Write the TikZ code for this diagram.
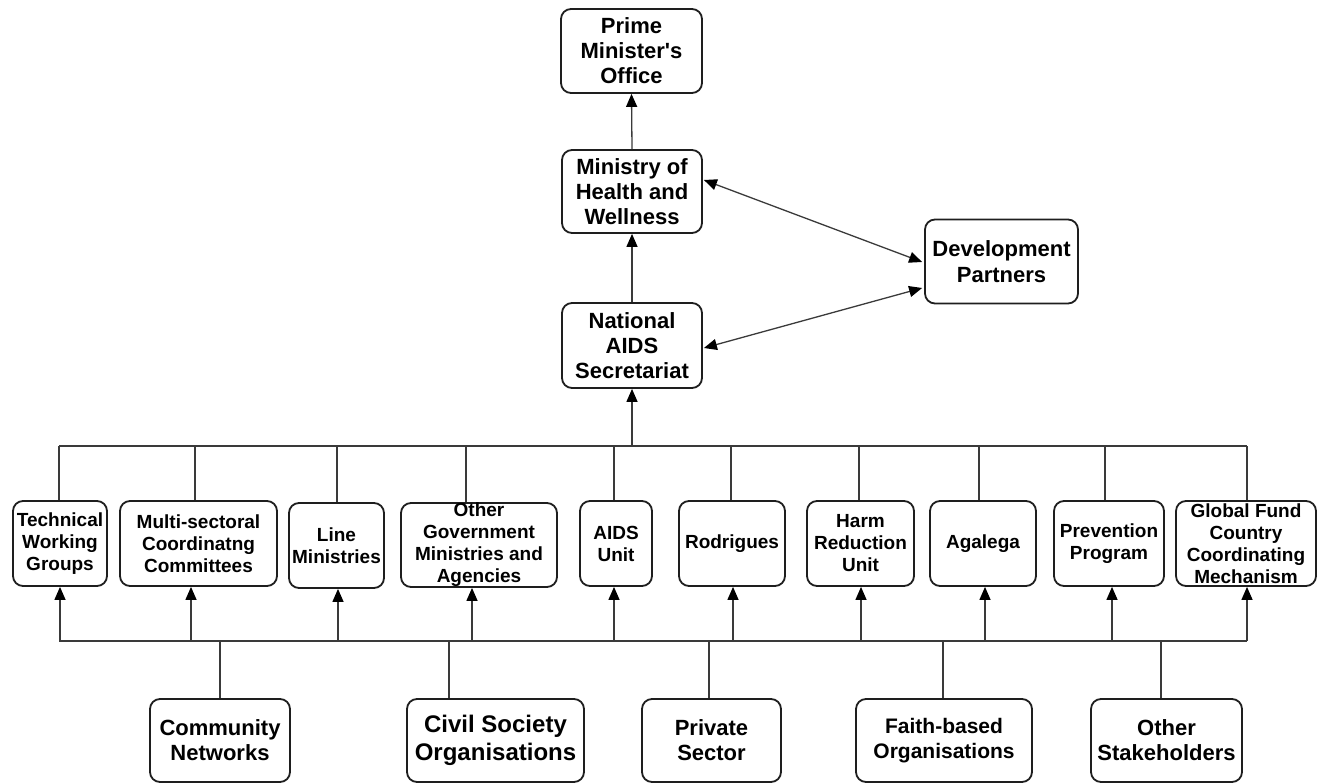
\documentclass[tikz,border=0pt]{standalone}
\usepackage{fontspec}
\setmainfont{Liberation Sans}
\usetikzlibrary{arrows.meta,calc}
\definecolor{edgec}{HTML}{1E1E1E}
\definecolor{linec}{HTML}{3A3A3A}
\begin{document}
\begin{tikzpicture}[x=1pt,y=-1pt,
  box/.style={draw=edgec, line width=1.8pt, rounded corners=10pt, align=center,
              inner sep=0pt, fill=white, text=black},
  sz/.style 2 args={minimum width=#1pt, minimum height=#2pt},
  bigf/.style={font=\fontsize{22}{25}\selectfont\bfseries},
  midf/.style={font=\fontsize{19}{22}\selectfont\bfseries},
  link/.style={draw=linec, line width=1.3pt},
  bus/.style={draw=linec, line width=1.8pt},
  arr/.style={link, -{Triangle[length=13pt,width=11pt,color=black]}},
  darr/.style={link, {Triangle[length=13pt,width=11pt,color=black]}-{Triangle[length=13pt,width=11pt,color=black]}}
]
\useasboundingbox (0,0) rectangle (1321,783);

% --- upper chain ---
\node[box, sz={141}{84}, bigf] (pmo) at (631.5,51) {Prime\\Minister\textquotesingle s\\Office};
\node[box, sz={140}{83}, bigf] (mohw) at (632,191.5) {Ministry of\\Health and\\Wellness};
\node[box, sz={140}{85}, bigf] (nas) at (632,345.5) {National\\AIDS\\Secretariat};
\node[box, sz={153}{84}, font=\fontsize{22}{26}\selectfont\bfseries] (dp) at (1001.5,261.5) {Development\\Partners};

\draw[arr] (mohw.north) -- (pmo.south);
\draw[arr] (nas.north) -- (mohw.south);
\draw[darr] ($(mohw.east)+(1,-11.5)$) -- ($(dp.west)+(-2,0.5)$);
\draw[darr] ($(nas.east)+(1,2.5)$) -- ($(dp.west)+(-2,26.5)$);

% --- implementing bodies ---
\node[box, sz={94}{85}, midf] (twg) at (60,543.5) {Technical\\Working\\Groups};
\node[box, sz={157}{85}, midf] (msc) at (198.5,543.5) {Multi-sectoral\\Coordinatng\\Committees};
\node[box, sz={95}{85}, midf] (lm) at (336.5,545.5) {Line\\Ministries};
\node[box, sz={156}{84}, midf] (ogm) at (479,545) {Other\\Government\\Ministries and\\Agencies};
\node[box, sz={72}{85}, midf] (aids) at (616,543.5) {AIDS\\Unit};
\node[box, sz={106}{85}, midf] (rod) at (732,543.5) {Rodrigues};
\node[box, sz={107}{85}, midf] (harm) at (860.5,543.5) {Harm\\Reduction\\Unit};
\node[box, sz={106}{85}, midf] (aga) at (983,543.5) {Agalega};
\node[box, sz={110}{85}, midf] (prev) at (1109,543.5) {Prevention\\Program};
\node[box, sz={140}{85}, midf] (gf) at (1246,543.5) {Global Fund\\Country\\Coordinating\\Mechanism};

% --- stakeholders ---
\node[box, sz={140}{83}, bigf] (comm) at (220,740.5) {Community\\Networks};
\node[box, sz={177}{83}, font=\fontsize{24}{28}\selectfont\bfseries] (civ) at (495.5,740.5) {Civil Society\\Organisations};
\node[box, sz={139}{83}, bigf] (priv) at (711.5,740.5) {Private\\Sector};
\node[box, sz={176}{83}, font=\fontsize{21}{25}\selectfont\bfseries] (faith) at (944,740.5) {Faith-based\\Organisations};
\node[box, sz={151}{83}, bigf] (oth) at (1166.5,740.5) {Other\\Stakeholders};

% --- upper bus ---
\coordinate (tbL) at (59,446);
\coordinate (tbR) at (1247,446);
\draw[bus] (tbL) -- (tbR);
\draw[arr] (nas.south |- tbL) -- (nas.south);
\foreach \n/\dx in {twg/-1, msc/-3.5, lm/0.5, ogm/-13, aids/-2, rod/-1, harm/-1.5, aga/-4, prev/-4, gf/1}{
  \path ($(\n.north)+(\dx,0)$) coordinate (tmp);
  \draw[link] (tmp |- tbL) -- (tmp);
}

% --- lower bus ---
\coordinate (bbL) at (59,641);
\coordinate (bbR) at (1247,641);
\draw[bus] (bbL) -- (bbR);
\foreach \n/\dx in {twg/0, msc/-7.5, lm/1.5, ogm/-7, aids/-2, rod/1, harm/0.5, aga/2, prev/3, gf/1}{
  \path ($(\n.south)+(\dx,0)$) coordinate (tmp);
  \draw[arr] (tmp |- bbL) -- (tmp);
}
\foreach \n/\dx in {comm/0, civ/-46.5, priv/-2.5, faith/-1, oth/-5.5}{
  \path ($(\n.north)+(\dx,0)$) coordinate (tmp);
  \draw[link] (tmp |- bbL) -- (tmp);
}
\end{tikzpicture}
\end{document}
